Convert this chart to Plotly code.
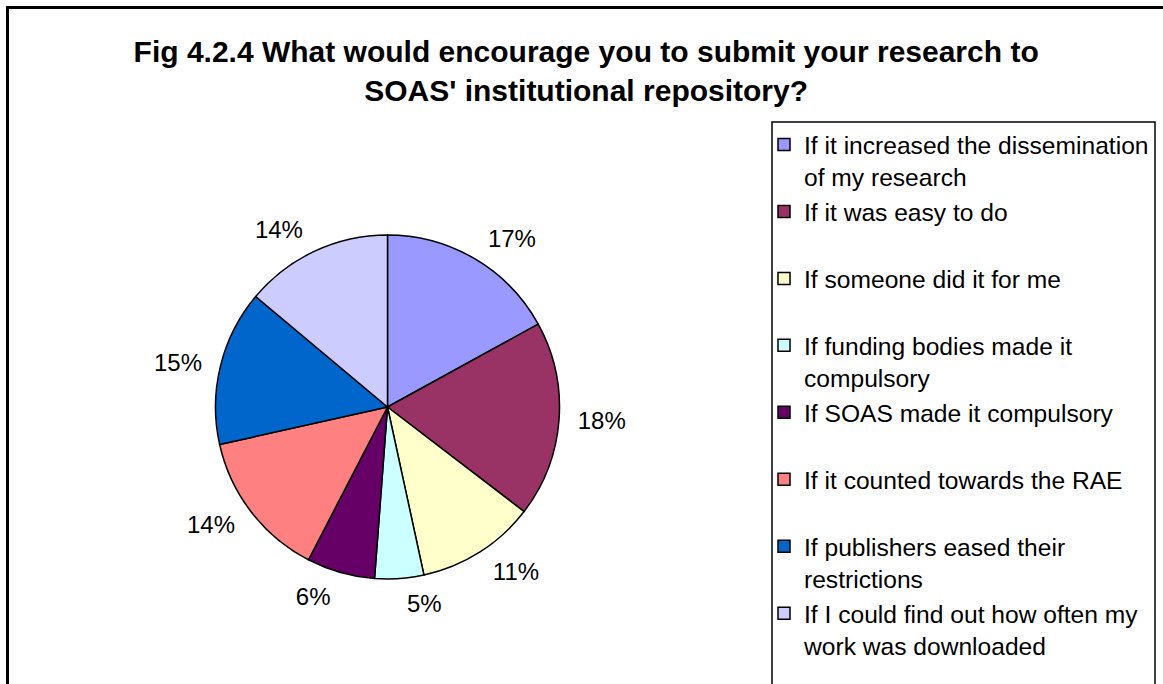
import plotly.graph_objects as go

W, H = 1163, 684

# ---- data ----
categories = [
    "If it increased the dissemination of my research",
    "If it was easy to do",
    "If someone did it for me",
    "If funding bodies made it compulsory",
    "If SOAS made it compulsory",
    "If it counted towards the RAE",
    "If publishers eased their restrictions",
    "If I could find out how often my work was downloaded",
]
legend_labels = [
    "If it increased the dissemination<br>of my research",
    "If it was easy to do<br>&nbsp;",
    "If someone did it for me<br>&nbsp;",
    "If funding bodies made it<br>compulsory",
    "If SOAS made it compulsory<br>&nbsp;",
    "If it counted towards the RAE<br>&nbsp;",
    "If publishers eased their<br>restrictions",
    "If I could find out how often my<br>work was downloaded",
]
values = [17.0, 18.4, 11.2, 4.6, 6.4, 13.9, 14.6, 13.9]
colors = ["#9999FF", "#993366", "#FFFFCC", "#CCFFFF",
          "#660066", "#FF8080", "#0066CC", "#CCCCFF"]

FONT = "Liberation Sans, Arial, sans-serif"

# pie geometry (pixels)
cx, cy, r = 387.5, 407.0, 172.0
r_text = 184.0

def dom(rad):
    return dict(x=[(cx - rad) / W, (cx + rad) / W],
                y=[(H - cy - rad) / H, (H - cy + rad) / H])

fig = go.Figure()
fig.add_trace(go.Pie(
    labels=legend_labels, values=values, sort=False, direction="clockwise",
    rotation=0, marker=dict(colors=colors, line=dict(color="black", width=1.5)),
    textinfo="none", domain=dom(r), hoverinfo="label+percent",
))
fig.add_trace(go.Pie(
    labels=legend_labels, values=values, sort=False, direction="clockwise",
    rotation=0, marker=dict(colors=["rgba(0,0,0,0)"] * len(values),
                            line=dict(width=0)),
    texttemplate="%{percent:.0%}", textposition="outside",
    textfont=dict(family=FONT, size=24, color="black"),
    domain=dom(r_text), showlegend=False, hoverinfo="skip",
))

fig.update_layout(
    width=W, height=H, margin=dict(l=0, r=0, t=0, b=0),
    paper_bgcolor="white", plot_bgcolor="white",
    title=dict(
        text="Fig 4.2.4 What would encourage you to submit your research to<br>SOAS' institutional repository?",
        font=dict(family=FONT, size=30, color="black", weight="bold"),
        x=0.504, xanchor="center", y=1 - 62 / H, yanchor="top",
    ),
    legend=dict(
        x=764 / W, xanchor="left", y=1 - 122 / H, yanchor="top",
        font=dict(family=FONT, size=24.6, color="black"),
        bgcolor="rgba(0,0,0,0)", borderwidth=0, valign="top",
        traceorder="normal",
    ),
    shapes=[
        dict(type="rect", xref="paper", yref="paper",
             x0=7.5 / W, x1=1.05, y0=-0.05, y1=1 - 7.5 / H,
             line=dict(color="black", width=3)),
        dict(type="rect", xref="paper", yref="paper",
             x0=772 / W, x1=1155 / W, y0=-0.05, y1=1 - 122 / H,
             line=dict(color="black", width=1.5)),
    ],
)

fig.write_html("out.html")
